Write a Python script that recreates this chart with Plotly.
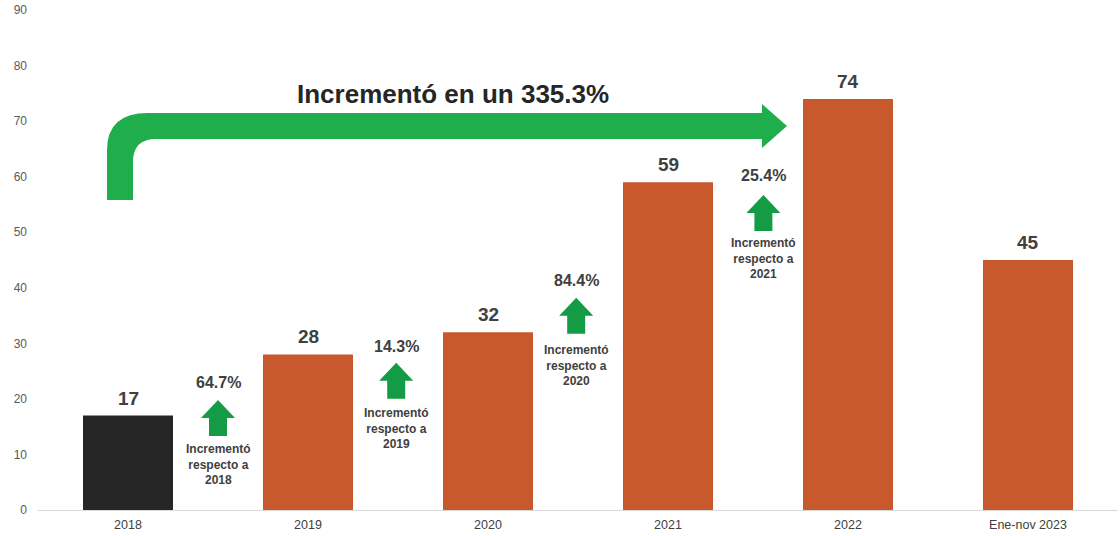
import plotly.graph_objects as go

# Yearly counts
years = ["2018", "2019", "2020", "2021", "2022", "Ene-nov 2023"]
counts = [17, 28, 32, 59, 74, 45]
bar_colors = ["#262626", "#c8592c", "#c8592c", "#c8592c", "#c8592c", "#c8592c"]
y_ticks = [0, 10, 20, 30, 40, 50, 60, 70, 80, 90]

# Year-over-year growth between consecutive full years
growth = [(counts[i + 1] - counts[i]) / counts[i] * 100 for i in range(4)]
total_growth = (counts[4] - counts[0]) / counts[0] * 100

# Figure geometry
W, H = 1120, 536
ML, MR, MT, MB = 38, 2, 10, 26
Y_MAX = 90
PX_X = (W - ML - MR) / len(years)      # pixels per category
PX_Y = (H - MT - MB) / Y_MAX           # pixels per y unit


def dx(p):
    return p / PX_X


def dy(p):
    return p / PX_Y


TXT = "#404040"
FONT = "Liberation Sans, Arial, sans-serif"
GREEN_BIG = "#1fae4b"
GREEN_SMALL = "#139c45"

fig = go.Figure()
fig.add_trace(go.Bar(
    x=years, y=counts, marker_color=bar_colors, marker_line_width=0,
    width=0.5, hoverinfo="x+y",
))

annotations = []
shapes = []

# value labels above each bar (x given as category index)
for i, v in enumerate(counts):
    annotations.append(dict(
        x=i, y=v, text=f"<b>{v}</b>", showarrow=False, yanchor="bottom",
        yshift=5, font=dict(family=FONT, size=19, color=TXT),
    ))

# growth markers placed between bars: (x, arrow top, pct label, caption center)
growth_pos = [
    (0.50, 19.8, 23.0, 8.2),
    (1.49, 26.5, 29.4, 14.7),
    (2.49, 38.2, 41.4, 26.0),
    (3.53, 56.7, 60.3, 45.3),
]
for i, (gx, top, ly, cy) in enumerate(growth_pos):
    hw, sw, hh, th = dx(17), dx(9), dy(18), dy(36)
    path = (
        f"M {gx},{top} L {gx + hw},{top - hh} L {gx + sw},{top - hh} "
        f"L {gx + sw},{top - th} L {gx - sw},{top - th} L {gx - sw},{top - hh} "
        f"L {gx - hw},{top - hh} Z"
    )
    shapes.append(dict(type="path", path=path, xref="x", yref="y",
                       fillcolor=GREEN_SMALL, line_width=0, layer="above"))
    annotations.append(dict(
        x=gx, y=ly, text=f"<b>{growth[i]:.1f}%</b>", showarrow=False,
        font=dict(family=FONT, size=16, color=TXT),
    ))
    annotations.append(dict(
        x=gx, y=cy, text=f"<b>Incrementó<br>respecto a<br>{years[i]}</b>",
        showarrow=False, font=dict(family=FONT, size=12, color=TXT),
    ))

# long bent arrow spanning 2018 -> 2022
def px(p):
    return dx(p - ML) - 0.5


def py(p):
    return dy(H - MB - p)


pts = [
    ("M", 107, 200), ("L", 107, 150), ("Q", 107, 113, 148, 113),
    ("L", 762, 113), ("L", 762, 104), ("L", 787, 126), ("L", 762, 148),
    ("L", 762, 139), ("L", 156, 139), ("Q", 133, 139, 133, 162),
    ("L", 133, 200),
]
segs = []
for p in pts:
    cmd = p[0]
    coords = p[1:]
    xy = []
    for j in range(0, len(coords), 2):
        xy.append(f"{px(coords[j]):.4f},{py(coords[j + 1]):.4f}")
    segs.append(cmd + " " + " ".join(xy))
big_path = " ".join(segs) + " Z"
shapes.append(dict(type="path", path=big_path, xref="x", yref="y",
                   fillcolor=GREEN_BIG, line_width=0, layer="above"))
annotations.append(dict(
    x=px(453), y=py(94), text=f"<b>Incrementó en un {total_growth:.1f}%</b>",
    showarrow=False, font=dict(family=FONT, size=26, color="#262626"),
))

fig.update_layout(
    width=W, height=H,
    margin=dict(l=ML, r=MR, t=MT, b=MB),
    plot_bgcolor="white", paper_bgcolor="white",
    showlegend=False, bargap=0.5,
    shapes=shapes, annotations=annotations,
    xaxis=dict(
        type="category", range=[-0.5, len(years) - 0.5],
        showgrid=False, showline=True, linecolor="#d9d9d9", linewidth=1,
        ticks="", ticklabelstandoff=3,
        tickfont=dict(family=FONT, size=12.5, color=TXT),
        fixedrange=True,
    ),
    yaxis=dict(
        range=[0, Y_MAX], tickvals=y_ticks, showgrid=False, zeroline=False,
        showline=False, ticks="", ticklabelstandoff=10,
        tickfont=dict(family=FONT, size=12, color="#595959"),
        fixedrange=True,
    ),
)

fig.write_html("out.html")
